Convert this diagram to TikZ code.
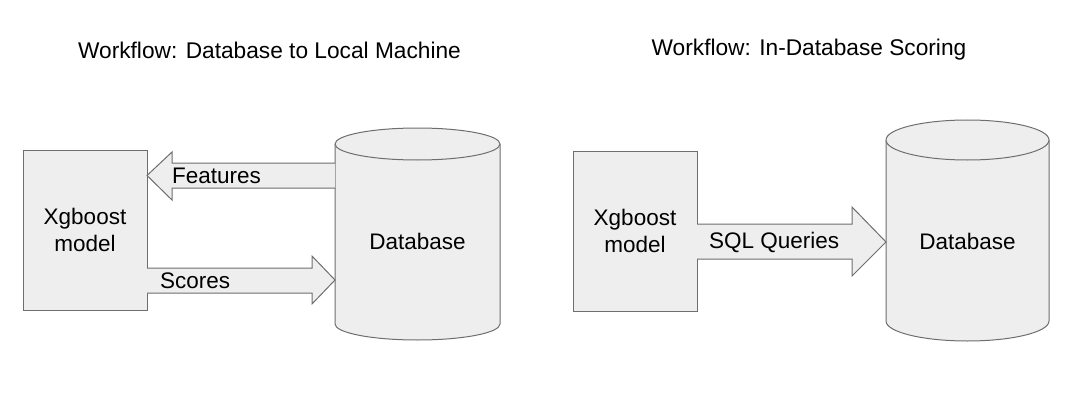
\documentclass[tikz,border=0pt]{standalone}
\usepackage{fontspec}
\setmainfont{Liberation Sans}
\usetikzlibrary{calc}
\definecolor{strokec}{RGB}{110,110,110}
\definecolor{fillc}{RGB}{238,238,238}
\tikzset{
  box/.style={draw=strokec, fill=fillc, line width=1pt, inner sep=0pt, align=center},
  cyl/.style={draw=strokec, fill=fillc, line width=1pt},
  bigarrow/.style={draw=strokec, fill=fillc, line width=1pt, line join=miter},
  lbl/.style={inner sep=0pt, font=\fontsize{22.5}{27}\selectfont},
  ttl/.style={inner sep=0pt, font=\fontsize{22.7}{27}\selectfont}
}
\begin{document}
\begin{tikzpicture}[x=1pt,y=-1pt]
\useasboundingbox (0,0) rectangle (1080,412);
% titles
\node[ttl] (t1) at (269.5,50) {Workflow: Database to Local Machine};
\node[ttl] (t2) at (809,50) {Workflow: In-Database Scoring};

% ---------- left diagram ----------
\node[box, minimum width=124pt, minimum height=160pt, font=\fontsize{22.5}{27}\selectfont] (m1) at (85,230) {Xgboost\\model};
% cylinder 1
\draw[cyl] (335,144) -- (335,324) arc[start angle=180, end angle=0, x radius=82.5, y radius=16] -- (500,144) arc[start angle=0, end angle=-180, x radius=82.5, y radius=16] -- cycle;
\draw[cyl] (335,144) arc[start angle=180, end angle=0, x radius=82.5, y radius=16];
\node[lbl] (db1) at (417.5,241) {Database};
% Features arrow (db1 -> m1)
\draw[bigarrow] (335,163) -- (172,163) -- (172,152) -- (147,175.5) -- (172,200) -- (172,188) -- (335,188);
\node[lbl, anchor=west] (f1) at (172,176) {Features};
% Scores arrow (m1 -> db1)
\draw[bigarrow] (147,268) -- (312,268) -- (312,256) -- (335,280) -- (312,304) -- (312,293) -- (147,293);
\node[lbl, anchor=west] (s1) at (160,281) {Scores};

% ---------- right diagram ----------
\node[box, minimum width=124pt, minimum height=160pt, font=\fontsize{22.5}{27}\selectfont] (m2) at (635,231) {Xgboost\\model};
\draw[cyl] (886,140) -- (886,321) arc[start angle=180, end angle=0, x radius=81.5, y radius=20] -- (1049,140) arc[start angle=0, end angle=-180, x radius=81.5, y radius=20] -- cycle;
\draw[cyl] (886,140) arc[start angle=180, end angle=0, x radius=81.5, y radius=20];
\node[lbl] (db2) at (967.5,241) {Database};
% SQL arrow
\draw[bigarrow] (697,224) -- (852,224) -- (852,207) -- (886,242) -- (852,276) -- (852,259) -- (697,259);
\node[lbl, anchor=west] (q2) at (709,242) {SQL Queries};
\end{tikzpicture}
\end{document}
